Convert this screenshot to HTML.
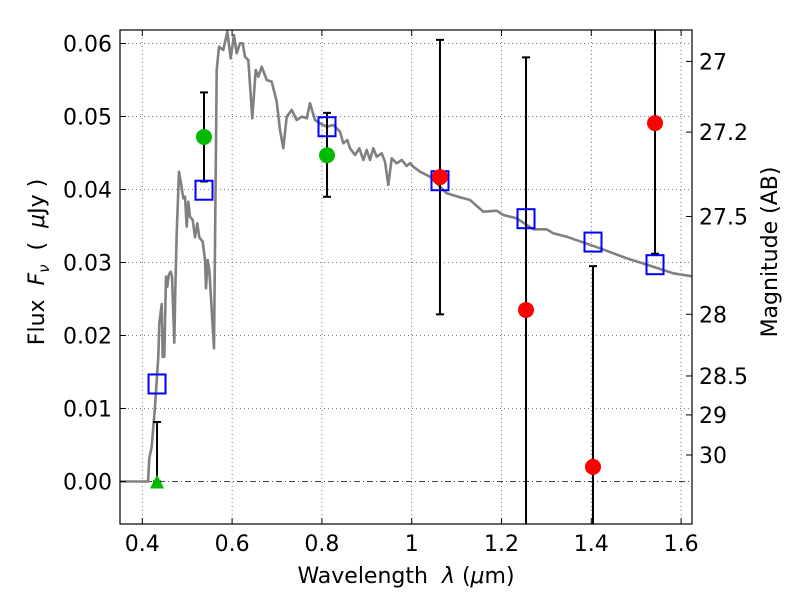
<!DOCTYPE html>
<html><head><meta charset="utf-8"><style>
html,body{margin:0;padding:0;background:#fff;overflow:hidden;width:800px;height:600px;}
svg{display:block;}
svg text{font-family:"DejaVu Sans","Liberation Sans",sans-serif;}
</style></head><body>
<svg id="chart" width="800" height="600" viewBox="0 0 800 600" xmlns="http://www.w3.org/2000/svg">
<rect width="800" height="600" fill="#fff"/>
<g id="grid"></g>
<g id="marks" clip-path="url(#clip)"></g>
<defs><clipPath id="clip"><rect x="120" y="30" width="572" height="494"/></clipPath></defs>
<rect x="120" y="30" width="572" height="494" fill="none" stroke="#000" stroke-width="1.2"/>
<g id="axes"></g>
<text x="406" y="583" font-size="22" text-anchor="middle" xml:space="preserve">Wavelength  <tspan font-style="italic">λ</tspan> (<tspan font-style="italic">μ</tspan>m)</text>
<text transform="translate(44,262) rotate(-90)" font-size="22" text-anchor="middle" xml:space="preserve">Flux  <tspan font-style="italic">F</tspan><tspan font-style="italic" font-size="15" dy="5">ν</tspan><tspan dy="-5">  (  </tspan><tspan font-style="italic">μ</tspan>Jy )</text>
<text transform="translate(777,252) rotate(-90)" font-size="22" text-anchor="middle">Magnitude (AB)</text>
</svg>
<script>
const sedWave=[0.3503,0.4127,0.4156,0.4210,0.4283,0.4356,0.4379,0.4432,0.4455,0.4490,0.4528,0.4557,0.4588,0.4633,0.4662,0.4713,0.4735,0.4766,0.4817,0.4862,0.4914,0.4951,0.4989,0.5025,0.5062,0.5122,0.5173,0.5225,0.5270,0.5346,0.5397,0.5419,0.5457,0.5492,0.5597,0.5657,0.5708,0.5804,0.5893,0.5969,0.6043,0.6103,0.6176,0.6236,0.6287,0.6361,0.6450,0.6526,0.6583,0.6659,0.6770,0.6882,0.6994,0.7066,0.7140,0.7216,0.7327,0.7439,0.7550,0.7661,0.7735,0.7846,0.7957,0.8107,0.8254,0.8403,0.8477,0.8566,0.8626,0.8737,0.8833,0.8922,0.8998,0.9072,0.9145,0.9220,0.9332,0.9405,0.9479,0.9555,0.9666,0.9778,0.9889,0.9963,1.0035,1.0185,1.0408,1.0780,1.1076,1.1298,1.1595,1.1893,1.2040,1.2339,1.2708,1.3006,1.3154,1.3452,1.4194,1.4788,1.5381,1.5827,1.6198,1.64];
const sedFlux=[0,0,0.00318,0.00477,0.01025,0.01710,0.02167,0.02432,0.01710,0.01710,0.02805,0.02668,0.02829,0.02874,0.02805,0.01901,0.02623,0.03400,0.04244,0.04085,0.03879,0.03901,0.03490,0.03833,0.03627,0.03582,0.03345,0.03537,0.03345,0.03285,0.03034,0.02647,0.03034,0.02897,0.01825,0.05637,0.05956,0.05911,0.06162,0.05797,0.06116,0.05866,0.06003,0.06003,0.05819,0.05774,0.04975,0.05637,0.05545,0.05682,0.05500,0.05477,0.05203,0.04815,0.04564,0.04997,0.05089,0.04952,0.04997,0.04975,0.05181,0.04952,0.04907,0.04860,0.04884,0.04792,0.04633,0.04678,0.04564,0.04473,0.04564,0.04404,0.04541,0.04404,0.04564,0.04449,0.04496,0.04381,0.04062,0.04427,0.04359,0.04404,0.04322,0.04359,0.04312,0.04244,0.04175,0.03948,0.03893,0.03856,0.03696,0.03710,0.03651,0.03605,0.03455,0.03455,0.03400,0.03353,0.03195,0.03058,0.02942,0.02852,0.02815,0.0280];
const modelWave=[0.4328,0.5374,0.8114,1.0630,1.2546,1.4038,1.5419];
const modelFlux=[0.01336,0.0399,0.0486,0.0412,0.0360,0.0328,0.0297];
const greenWave=[0.5374,0.8114];
const greenFlux=[0.0472,0.0447];
const greenErrLo=[0.0411,0.0390];
const greenErrHi=[0.0533,0.0505];
const limitWave=[0.4328];
const limitFlux=[0.0];
const limitErrHi=[0.00815];
const redWave=[1.0630,1.2546,1.4038,1.5419];
const redFlux=[0.0417,0.0235,0.0020,0.0491];
const redErrLo=[0.0229,-0.03,-0.03,0.0312];
const redErrHi=[0.0605,0.0581,0.0295,0.08];
const xTicks=[0.4,0.6,0.8,1.0,1.2,1.4,1.6];
const xTickLabels=["0.4","0.6","0.8","1","1.2","1.4","1.6"];
const yTicks=[0,0.01,0.02,0.03,0.04,0.05,0.06];
const yTickLabels=["0.00","0.01","0.02","0.03","0.04","0.05","0.06"];
const magTicks=[27,27.2,27.5,28,28.5,29,30];
const magTickLabels=["27","27.2","27.5","28","28.5","29","30"];

const X0=120,X1=692,Y0=30,Y1=524;
const xmin=0.4-22.3/449,xmax=0.4+(692-142.3)/449;
const ymin=(481.5-524)/7300,ymax=(481.5-30)/7300;
function sx(v){return X0+(v-xmin)/(xmax-xmin)*(X1-X0);}
function sy(v){return Y1-(v-ymin)/(ymax-ymin)*(Y1-Y0);}
function magToFlux(m){return Math.pow(10,(23.9-m)/2.5);}
const NS="http://www.w3.org/2000/svg";
function mk(tag,attrs,parent){const e=document.createElementNS(NS,tag);for(const k in attrs)e.setAttribute(k,attrs[k]);parent.appendChild(e);return e;}
const grid=document.getElementById('grid'),marks=document.getElementById('marks'),axes=document.getElementById('axes');

xTicks.forEach((t,i)=>{
  const g=mk('line',{x1:sx(t),x2:sx(t),y1:Y0,y2:Y1,stroke:'#555','stroke-width':0.8,'stroke-dasharray':'1,3'},grid);
  
  
  const tk=mk('line',{x1:sx(t),x2:sx(t),y1:Y1,y2:Y1-6,stroke:'#000','stroke-width':1},axes);
  
  
  const tk2=mk('line',{x1:sx(t),x2:sx(t),y1:Y0,y2:Y0+6,stroke:'#000','stroke-width':1},axes);
  
  
  const tx=mk('text',{x:sx(t),y:551,'font-size':22,'text-anchor':'middle'},axes);
  tx.textContent=xTickLabels[i];
  
  
});
yTicks.forEach((t,i)=>{
  const g=mk('line',{x1:X0,x2:X1,y1:sy(t),y2:sy(t),stroke:t===0?'#000':'#555','stroke-width':0.8,'stroke-dasharray':t===0?'6,3,1,3':'1,3'},grid);
  
  
  const tk=mk('line',{x1:X0,x2:X0+6,y1:sy(t),y2:sy(t),stroke:'#000','stroke-width':1},axes);
  
  
  const tx=mk('text',{x:112,y:sy(t)+8,'font-size':22,'text-anchor':'end'},axes);
  tx.textContent=yTickLabels[i];
  
  
});
magTicks.forEach((m,i)=>{
  const y=sy(magToFlux(m));
  const tk=mk('line',{x1:X1-6,x2:X1,y1:y,y2:y,stroke:'#000','stroke-width':1},axes);
  
  
  const tx=mk('text',{x:699,y:y+8,'font-size':22,'text-anchor':'start'},axes);
  tx.textContent=magTickLabels[i];
  
  
});

let d='';
sedWave.forEach((w,i)=>{d+=(i?'L':'M')+sx(w).toFixed(1)+','+sy(sedFlux[i]).toFixed(1);});
const sed=mk('path',{d:d,fill:'none',stroke:'#808080','stroke-width':2.6,'stroke-linejoin':'round'},marks);



function errbar(w,lo,hi,name){
  const x=sx(w);
  const l=mk('line',{x1:x,x2:x,y1:sy(lo),y2:sy(hi),stroke:'#000','stroke-width':2},marks);
  
  
  [lo,hi].forEach(v=>{
    const c=mk('line',{x1:x-4,x2:x+4,y1:sy(v),y2:sy(v),stroke:'#000','stroke-width':2},marks);
    
    
  });
}
greenWave.forEach((w,i)=>errbar(w,greenErrLo[i],greenErrHi[i],'green-errorbar'));
limitWave.forEach((w,i)=>errbar(w,limitFlux[i],limitErrHi[i],'limit-errorbar'));
redWave.forEach((w,i)=>errbar(w,redErrLo[i],redErrHi[i],'red-errorbar'));

modelWave.forEach((w,i)=>{
  const r=mk('rect',{x:sx(w)-8.5,y:sy(modelFlux[i])-9.5,width:17,height:19,fill:'none',stroke:'#0000ff','stroke-width':2},marks);
  
  
});
greenWave.forEach((w,i)=>{
  const c=mk('circle',{cx:sx(w),cy:sy(greenFlux[i]),r:8,fill:'#00bb00'},marks);
  
  
});
limitWave.forEach((w,i)=>{
  const x=sx(w),y=sy(limitFlux[i]);
  const p=mk('polygon',{points:`${x},${y-7} ${x-7},${y+7} ${x+7},${y+7}`,fill:'#00bb00'},marks);
  
  
});
redWave.forEach((w,i)=>{
  const c=mk('circle',{cx:sx(w),cy:sy(redFlux[i]),r:8,fill:'#ff0000'},marks);
  
  
});
</script>
</body></html>
